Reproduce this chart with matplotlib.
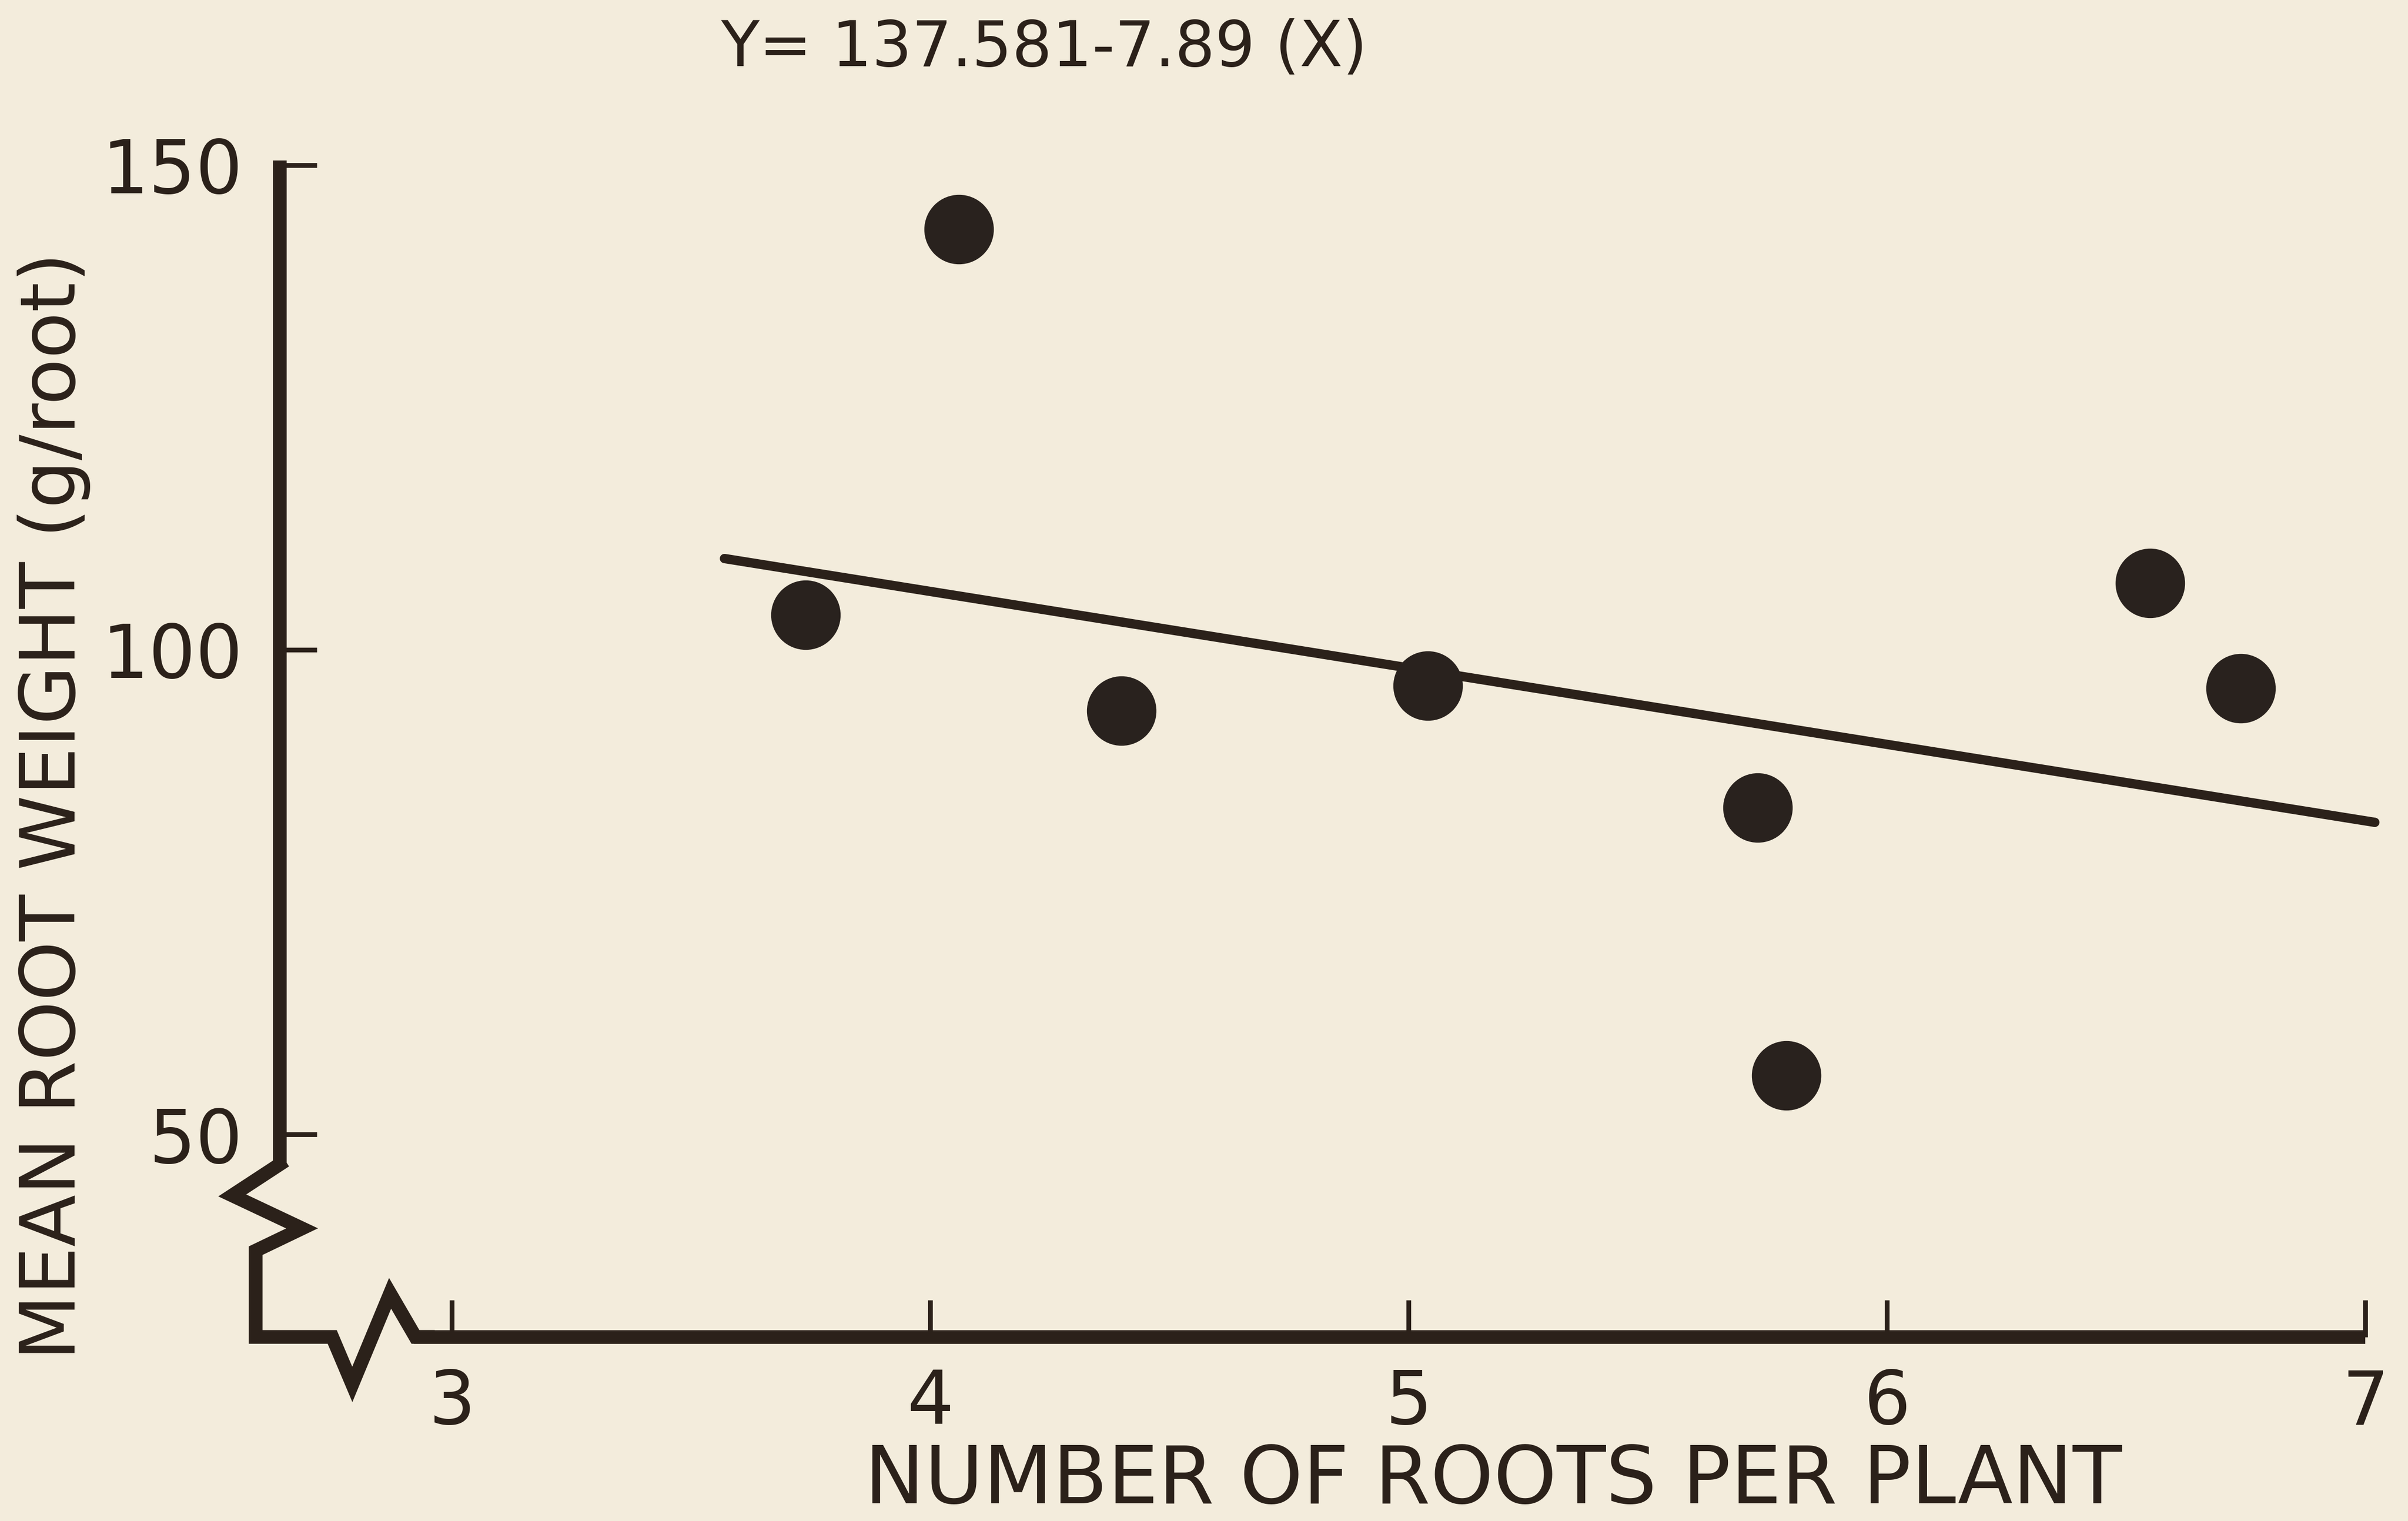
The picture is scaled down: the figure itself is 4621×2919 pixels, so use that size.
import matplotlib
matplotlib.use("Agg")
import matplotlib.pyplot as plt

# data
roots = [3.74, 4.06, 4.40, 5.04, 5.73, 5.79, 6.55, 6.74]
weights = [103.6, 143.4, 93.7, 96.3, 83.7, 56.1, 106.9, 96.0]
intercept = 137.581
slope = -7.89
fit_x = [3.57, 7.02]
xticks = [3, 4, 5, 6, 7]
yticks = [50, 100, 150]
title = "Y= 137.581-7.89 (X)"
xlabel = "NUMBER OF ROOTS PER PLANT"
ylabel = "MEAN ROOT WEIGHT (g/root)"

paper = "#f3ecdc"
ink = "#2b211a"

plt.rcParams['font.family'] = ['DejaVu Sans']

fig = plt.figure(figsize=(4621/300.0, 2919/300.0), dpi=300, facecolor=paper)
ax = fig.add_axes([0.09823, 0.11401, 0.89396, 0.79014])
ax.set_facecolor(paper)
ax.patch.set_alpha(0)
ax.set_xlim(2.55, 7.05)
ax.set_ylim(28, 152)

# regression line
fit_y = [intercept + slope*x for x in fit_x]
ax.plot(fit_x, fit_y, color=ink, lw=4.3, solid_capstyle='round', zorder=3)

# points
ax.plot(roots, weights, 'o', ms=31, color="#29221e", mec="#29221e", zorder=4)

# axes
for s in ['top', 'right']:
  ax.spines[s].set_visible(False)
ax.spines['left'].set_position(('data', 2.64))
ax.spines['left'].set_bounds(46.7, 150.5)
ax.spines['bottom'].set_position(('data', 29.1))
ax.spines['bottom'].set_bounds(2.92, 7.0)
for s in ['left', 'bottom']:
  ax.spines[s].set_linewidth(6.3)
  ax.spines[s].set_color(ink)
  ax.spines[s].set_capstyle('butt')

# axis breaks
brk_x = [2.64, 2.541, 2.687, 2.590, 2.590, 2.750, 2.792, 2.871, 2.924, 2.95]
brk_y = [46.9, 43.7, 40.3, 38.0, 29.1, 29.1, 24.2, 33.6, 29.1, 29.1]
ax.plot(brk_x, brk_y, color=ink, lw=6.3, clip_on=False, solid_joinstyle='miter', zorder=5)

ax.set_xticks(xticks)
ax.set_yticks(yticks)
ax.set_xticklabels([str(t) for t in xticks])
ax.set_yticklabels([str(t) for t in yticks])
ax.tick_params(axis='both', direction='in', length=17, width=2.2, color=ink,
               labelcolor=ink, labelsize=34)
ax.tick_params(axis='x', pad=14)
ax.tick_params(axis='y', pad=17)

ax.set_xlabel(xlabel, fontsize=37, color=ink)
ax.xaxis.set_label_coords(0.5837, -0.1113)
ax.xaxis.label.set_va('center')
ax.set_ylabel(ylabel, fontsize=35, color=ink)
ax.yaxis.set_label_coords(-0.0849, 0.4506)
ax.yaxis.label.set_va('center')

ax.text(0.3752, 1.0806, title, transform=ax.transAxes, ha='center', va='center',
        fontsize=29, color=ink)

plt.savefig('out.png', dpi=300, facecolor=paper)
